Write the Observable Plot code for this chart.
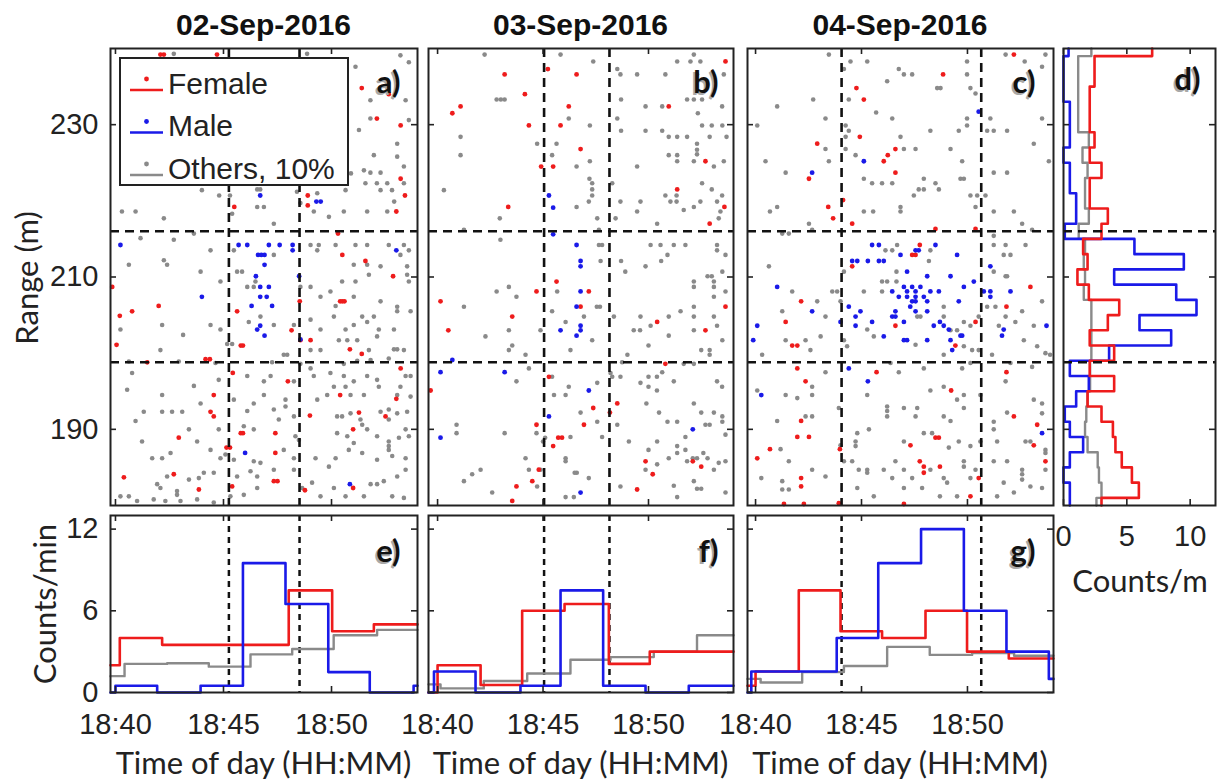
<!DOCTYPE html>
<html><head><meta charset="utf-8">
<script src="https://cdn.jsdelivr.net/npm/d3@7"></script>
<script src="https://cdn.jsdelivr.net/npm/@observablehq/plot@0.6"></script>
<style>
body{margin:0;background:#fff;}
#chart{position:relative;width:1225px;height:780px;overflow:hidden;background:#fff;}
#chart svg{position:absolute;left:0;top:0;}
.lbl{position:absolute;white-space:nowrap;color:#222;line-height:1;transform:translate(-50%,-50%);}
.ttl{font-family:"Liberation Sans",Arial,sans-serif;font-weight:bold;font-size:30px;color:#111;}
.ax{font-family:Lato,"Open Sans",sans-serif;font-size:31px;}
</style></head><body><div id="chart"></div>
<script>
// ---------- tick values ----------
const timeTicks = [0, 5, 10];            // minutes after 18:40
const rangeTicks = [190, 210, 230];
const countTicks = [0, 6, 12];
const countPerMTicks = [0, 5, 10];
const rangeLines = [198.8, 216.0];       // dashed range limits
const vlinesA = [5.25, 8.52];
const vlinesB = [5.05, 8.15];
const vlinesC = [4.06, 10.65];
const dayTitles = ["02-Sep-2016", "03-Sep-2016", "04-Sep-2016"];

// ---------- scatter data: [minutes after 18:40, range m] ----------
const femaleA = [[2.08,239.2],[2.24,239.2],[4.7,239.2],[11.4,234.8],[12.65,234.0],[12.1,230.8],[13.2,229.9],[13.2,222.9],[13.4,220.7],[13.0,218.6],[8.9,220.7],[8.9,219.4],[5.5,219.2],[10.3,215.7],[10.5,212.9],[11.57,212.1],[-0.15,208.7],[0.2,204.9],[0.77,205.5],[0.05,201.1],[2.0,206.2],[4.17,199.2],[4.37,199.2],[1.47,198.8],[5.63,205.5],[5.43,197.4],[5.8,201.0],[5.9,201.0],[4.55,194.5],[4.4,192.3],[4.55,191.7],[2.93,188.9],[5.8,189.5],[5.9,189.5],[7.4,189.5],[5.14,187.6],[5.3,187.6],[7.4,186.9],[0.39,183.7],[2.7,184.1],[3.86,182.1],[5.4,182.5],[7.33,183.2],[7.5,183.2],[8.77,182.0],[7.98,196.3],[8.15,203.0],[8.56,201.7],[9.03,201.7],[9.0,191.8],[8.53,206.8],[10.4,206.8],[10.5,206.8],[10.6,206.8],[12.85,210.1],[10.85,200.5],[11.4,199.9],[13.2,198.0],[13.0,194.0],[10.4,194.5],[11.27,192.2],[11.0,190.0],[12.5,191.7],[11.0,182.3]];
const maleA = [[6.7,220.7],[9.3,219.9],[9.5,219.9],[0.23,214.2],[5.7,214.2],[6.1,214.2],[6.6,212.9],[6.75,212.9],[6.9,212.9],[7.1,214.2],[7.6,214.2],[8.2,214.2],[8.2,213.5],[6.9,211.6],[6.5,210.1],[6.7,208.7],[7.1,208.7],[6.7,207.4],[7.0,207.4],[6.3,206.2],[7.25,206.2],[4.0,207.4],[6.56,203.1],[6.7,203.6],[6.9,202.3],[8.5,210.1],[8.56,201.8],[6.0,186.9],[13.0,213.5],[10.85,182.8]];
const othersA = [[2.7,239.3],[8.87,239.3],[13.19,239.1],[13.58,238.2],[11.11,237.6],[11.8,233.2],[13.43,233.2],[11.8,230.8],[13.58,230.6],[11.27,229.3],[13.04,227.5],[11.96,226.0],[13.04,225.8],[11.5,224.0],[11.8,223.7],[12.27,223.7],[13.35,224.5],[11.57,222.3],[12.1,222.3],[12.58,222.3],[13.35,222.3],[12.27,221.4],[12.8,221.4],[12.9,219.9],[10.9,223.6],[8.26,223.6],[4.0,221.4],[4.8,220.7],[5.3,220.7],[6.56,221.5],[6.7,221.5],[8.4,221.2],[9.34,221.0],[10.65,221.4],[11.65,218.6],[12.58,218.6],[10.57,218.6],[9.88,217.9],[9.18,218.6],[8.56,219.7],[7.33,217.0],[6.56,219.2],[6.87,219.2],[5.4,218.3],[2.24,217.7],[0.3,218.6],[0.93,218.6],[1.16,215.1],[2.7,214.9],[3.63,215.7],[5.48,213.5],
[4.4,213.5],[7.33,212.9],[9.03,214.2],[9.41,214.2],[10.19,214.2],[11.11,214.2],[11.65,214.2],[12.65,214.2],[13.35,214.2],[13.58,213.5],[9.34,213.5],[13.19,212.9],[11.03,211.6],[11.65,211.6],[12.27,211.4],[13.5,211.4],[2.24,212.2],[2.39,211.6],[0.62,211.6],[3.94,210.7],[4.86,209.4],[5.63,210.7],[5.86,210.7],[6.1,208.7],[6.4,208.7],[6.48,209.4],[8.56,208.7],[9.03,208.7],[9.95,208.1],[10.49,209.4],[11.11,209.4],[11.73,210.3],[13.5,210.3],[13.58,209.4],[10.19,206.2],[10.11,204.8],[9.49,207.4],[11.03,207.4],[12.27,206.8],[13.04,206.1],[13.04,205.5],[13.66,205.5],[11.42,204.8],[11.65,204.1],[11.96,204.8],[12.19,203.1],[12.11,202.2],[12.89,203.1],[11.03,203.7],[10.65,203.1],[9.49,203.1],[9.03,204.4],[8.26,203.7],[7.33,203.7],[6.17,204.1],[6.71,204.8],[4.86,203.1],[4.4,203.7],[3.13,202.4],[2.16,203.7],[0.23,203.1],[2.08,200.4],[5.17,201.2],[5.4,201.2],[7.79,199.8],[7.95,199.8],[9.03,200.4],[9.49,200.4],[10.34,201.7],[10.73,201.7],[11.19,201.7],[11.73,200.4],[12.89,200.5],[13.04,200.5],[13.35,200.4],[13.43,197.0],[13.66,197.0],[12.65,199.3],[11.81,199.1],[11.19,199.0],[10.57,198.6],[9.03,198.0],[8.56,198.6],[7.25,198.8],[4.63,198.7],[2.93,198.9],[0.62,198.9],[0.77,197.4],[0.54,195.2],[2.16,194.5],[3.63,195.7],[4.78,196.5],[6.1,197.0],[6.87,196.3],[7.18,197.0],[8.26,196.3],[9.18,197.0],[9.95,197.4],[10.57,197.0],[11.03,196.3],[11.65,197.0],[12.11,196.5],[12.19,195.6],[10.11,195.6],[10.65,195.6],[9.8,194.5],[9.34,193.9],[10.88,194.5],[11.5,194.5],[13.19,195.6],[13.66,194.3],[13.04,194.5],[7.87,193.9],[7.87,193.0],[7.33,192.6],[6.87,194.5],[6.4,193.4],[5.48,193.9],[6.1,192.4],[3.94,193.4],[1.31,192.3],[2.16,192.3],[2.62,192.3],[3.09,192.3],[0.93,191.1],[3.4,190.0],[4.78,190.0],[5.94,190.4],[6.4,190.0],[7.56,191.3],[8.26,191.7],[8.33,189.1],[8.49,188.6],[10.26,191.7],[10.49,191.7],[10.88,192.1],[11.34,191.3],[11.42,190.6],[12.27,192.3],[12.65,192.6],[12.65,191.3],[13.04,192.1],[13.5,192.3],[13.43,190.0],[11.65,190.0],[12.11,189.1],[13.12,188.9],[13.58,189.1],[10.26,189.5],[10.73,189.1],[12.65,188.4],[12.65,187.8],[12.65,187.3],[1.23,188.4],[1.7,186.2],[2.16,186.2],[2.55,186.9],[3.78,188.4],[4.4,187.3],[4.86,186.2],[5.09,186.7],[5.48,186.0],[6.4,185.8],[6.71,185.6],[6.25,184.5],[6.56,183.8],[5.63,183.8],[4.55,184.3],[4.09,184.3],[3.4,183.4],[2.39,183.8],[1.93,182.8],[2.08,182.3],[2.85,181.9],[2.85,181.4],[3.86,183.6],[5.32,181.2],[5.94,181.4],[6.56,182.3],[7.33,184.7],[7.79,187.3],[8.26,186.2],[8.26,184.7],[9.26,186.2],[9.88,185.1],[10.19,186.2],[10.8,187.3],[11.03,188.2],[11.42,186.9],[12.11,186.0],[12.81,186.5],[13.43,186.2],[13.43,184.7],[13.04,183.8],[12.42,183.2],[12.11,182.8],[12.81,181.2],[13.35,181.0],[11.5,181.2],[10.65,181.2],[10.11,182.3],[9.49,181.2],[9.1,183.0],[8.64,182.3],[0.23,181.2],[0.62,181.2],[1.0,180.6],[1.77,180.8],[2.31,180.6],[3.01,180.6],[3.78,180.8],[4.55,180.4],[11.81,182.8]];

const femaleB = [[3.18,236.6],[6.59,236.6],[4.14,234.0],[0.7,231.5],[1.09,232.4],[6.22,232.4],[4.33,229.9],[5.83,229.9],[5.23,237.3],[6.78,226.8],[4.91,224.5],[5.48,224.5],[3.35,219.2],[13.65,238.3],[10.96,232.4],[12.7,225.2],[11.36,221.5],[13.6,219.2],[12.9,217.0],[0.14,206.8],[0.51,203.0],[3.54,204.8],[4.69,208.1],[5.64,209.4],[7.17,208.1],[6.78,206.1],[-0.33,195.1],[10.41,204.1],[12.7,203.0],[13.65,206.1],[10.8,198.6],[5.28,196.9],[7.38,192.8],[6.94,190.6],[4.69,190.6],[8.52,193.4],[8.17,192.2],[5.72,188.9],[5.9,188.9],[5.48,187.8],[4.8,184.7],[4.49,183.2],[3.74,182.5],[3.54,180.6],[9.86,185.8],[10.2,184.1],[9.46,182.1],[12.1,185.8],[12.5,185.1]];
const maleB = [[5.28,220.7],[5.48,219.1],[5.48,215.6],[6.59,214.2],[6.78,212.1],[6.78,211.4],[6.78,208.1],[6.59,206.1],[6.78,203.6],[6.78,203.0],[6.59,202.3],[5.83,203.0],[0.7,199.1],[0.14,197.5],[3.18,197.5],[7.17,195.1],[5.28,191.7],[0.14,188.9],[12.1,190.0],[6.78,181.7]];
const othersB = [[2.23,239.2],[5.83,239.2],[7.38,238.3],[8.52,237.3],[8.67,236.6],[9.46,236.6],[10.8,236.6],[11.36,238.3],[11.99,238.3],[12.15,239.2],[12.46,238.3],[12.3,236.6],[13.57,236.6],[2.8,233.3],[3.0,233.3],[3.18,233.3],[8.7,233.3],[9.86,232.4],[10.65,232.4],[11.83,233.3],[12.15,233.3],[12.54,233.3],[12.34,231.5],[13.49,232.4],[6.22,230.8],[7.22,229.9],[8.52,230.8],[8.7,229.2],[9.86,229.2],[10.65,229.2],[12.54,229.9],[13.0,229.9],[13.5,229.9],[1.09,228.4],[4.72,227.5],[5.64,227.5],[10.96,228.4],[11.36,228.4],[11.83,228.4],[12.3,227.5],[12.3,226.7],[12.3,226.1],[12.9,228.4],[13.7,228.4],[1.09,226.0],[5.43,226.0],[7.22,225.2],[10.96,226.0],[11.36,226.0],[11.36,225.2],[12.15,225.2],[13.1,224.5],[13.57,225.2],[9.46,224.5],[6.59,224.5],[0.3,221.4],[7.2,222.9],[7.33,222.3],[7.33,221.5],[7.33,220.7],[7.17,219.9],[6.59,219.2],[8.28,222.3],[8.67,219.9],[9.62,219.9],[12.54,222.3],[13.0,221.5],[13.49,220.7],[13.25,219.9],[12.15,219.2],[12.46,219.9],[11.33,220.7],[11.33,219.9],[11.04,219.9],[10.8,220.7],[11.67,218.8],[13.33,217.7],[13.41,218.6],[2.95,217.7],[1.25,216.2],[2.98,214.9],[7.65,216.2],[8.44,217.7],[9.46,218.6],[10.41,217.0],[7.57,217.7],
[7.65,214.2],[7.8,214.2],[10.1,214.2],[10.57,214.2],[11.2,214.2],[11.75,214.2],[13.25,214.2],[13.25,213.5],[13.65,212.9],[10.9,212.9],[10.6,212.1],[9.86,211.4],[8.7,212.1],[8.9,210.7],[7.73,212.1],[12.8,210.1],[13.0,210.1],[12.15,209.4],[12.15,208.7],[13.1,209.4],[13.1,208.7],[13.5,210.7],[13.65,208.1],[13.1,207.4],[12.15,206.1],[11.52,205.5],[10.96,204.8],[9.62,204.8],[10.1,203.6],[9.3,203.0],[9.6,203.0],[10.96,202.3],[10.0,201.0],[12.15,203.0],[12.15,204.8],[13.1,204.8],[13.25,203.6],[13.5,201.7],[12.5,200.4],[12.9,200.4],[12.9,199.8],[12.15,198.6],[11.67,198.6],[9.0,199.8],[8.75,198.8],[8.36,204.8],[7.33,201.7],[6.3,200.4],[5.67,208.1],[5.43,205.5],[6.07,204.1],[6.94,204.8],[4.88,203.0],[3.38,203.0],[2.27,202.2],[3.38,200.4],[3.54,201.0],[4.17,199.8],[4.33,198.0],[3.74,207.4],[2.8,208.1],[3.38,208.7],[1.25,206.1],[7.7,206.1],[7.55,206.1],
[5.43,196.9],[6.22,195.6],[5.52,194.5],[6.07,194.5],[7.57,196.1],[8.2,197.4],[8.28,196.9],[8.67,196.9],[10.0,196.9],[10.4,196.9],[9.62,196.1],[10.0,195.6],[10.4,195.1],[11.2,196.3],[10.65,197.5],[6.78,192.2],[7.57,191.0],[8.52,190.6],[7.8,189.0],[6.3,189.0],[5.1,188.9],[5.0,188.4],[6.07,186.2],[6.07,185.8],[6.6,184.3],[6.5,184.3],[7.17,183.6],[6.46,181.1],[6.07,181.1],[4.88,184.7],[4.17,186.2],[4.33,184.7],[4.72,182.5],[2.59,181.7],[1.25,183.2],[1.64,184.1],[2.04,184.7],[0.9,190.6],[0.9,189.5],[3.18,189.5],[4.69,189.5],[3.74,196.3],[8.67,182.5],[9.07,188.4],[9.86,184.7],[10.41,185.4],[10.0,187.3],[10.41,188.4],[10.96,186.2],[11.36,187.8],[11.36,186.9],[11.75,187.3],[11.75,189.0],[10.9,191.0],[11.36,191.0],[10.5,192.2],[9.9,193.4],[12.15,193.4],[12.5,192.2],[12.7,190.6],[12.9,190.6],[13.1,192.2],[13.5,191.7],[13.5,191.0],[13.25,196.3],[13.49,195.6],[13.65,189.3],[12.8,186.2],[12.6,186.9],[13.1,184.7],[13.33,185.6],[13.65,185.8],[12.5,182.2],[12.3,182.2],[12.15,183.2],[11.36,181.1],[11.2,182.6],[13.65,181.7],[11.83,185.8],[12.1,186.2],[12.3,186.2]];

const femaleC = [[12.19,239.2],[8.85,236.6],[4.76,234.8],[5.11,233.3],[4.92,228.4],[2.91,227.5],[6.6,226.8],[6.24,226.0],[6.05,225.2],[6.6,223.7],[2.52,222.9],[4.13,220.1],[3.43,219.2],[3.66,217.7],[4.56,217.0],[8.49,216.3],[10.38,216.3],[7.75,214.2],[7.39,212.9],[7.55,212.9],[4.56,211.4],[2.15,206.8],[1.42,204.1],[1.73,201.0],[1.97,201.0],[6.6,203.6],[10.38,204.1],[9.43,201.0],[11.84,206.1],[12.97,208.7],[1.97,198.0],[2.36,196.3],[5.71,197.5],[11.84,197.5],[9.23,195.1],[2.15,191.1],[1.97,189.0],[2.52,189.0],[0.68,187.4],[0.08,186.2],[3.98,187.4],[7.31,187.9],[8.49,188.9],[8.65,188.9],[7.75,185.8],[7.94,185.1],[7.94,184.3],[8.7,185.1],[12.19,191.7],[13.29,190.6],[13.13,187.9],[13.68,185.8],[10.53,183.6],[10.14,181.2],[2.15,183.6],[2.15,182.5],[1.34,180.2],[2.28,180.2],[7.0,180.2],[3.93,180.3]];
const maleC = [[10.53,231.7],[5.11,225.2],[2.67,223.7],[5.5,214.2],[5.82,214.2],[7.55,213.5],[7.7,213.5],[8.49,214.2],[6.84,212.9],[9.51,212.9],[4.56,212.1],[4.8,212.1],[5.3,212.1],[5.82,212.1],[6.05,212.1],[7.15,210.7],[8.1,210.1],[9.2,210.1],[10.3,209.4],[11.08,211.4],[1.02,208.7],[6.45,208.1],[7.0,208.7],[7.39,208.7],[7.78,208.7],[6.76,207.4],[7.15,208.1],[7.15,207.4],[7.55,208.1],[7.55,207.4],[8.25,208.1],[8.65,208.1],[7.94,207.4],[8.1,206.8],[7.39,206.8],[7.55,206.8],[7.3,206.1],[6.6,205.5],[8.1,205.5],[7.55,205.5],[9.59,206.8],[9.83,208.7],[10.77,208.1],[11.08,208.1],[11.08,207.4],[12.03,208.1],[4.4,206.1],[4.95,205.5],[4.72,204.8],[5.5,204.1],[6.45,204.8],[6.6,204.8],[7.0,204.1],[4.01,204.1],[4.72,203.6],[6.05,202.2],[7.0,201.7],[7.15,201.7],[8.1,201.7],[8.41,203.6],[8.7,204.1],[8.88,203.6],[9.12,203.1],[9.67,202.3],[9.75,202.3],[9.2,201.7],[9.28,200.4],[11.71,203.1],[11.63,202.3],[13.73,203.6],[0.08,203.6],[-0.11,201.7],[2.67,205.5],[4.4,198.0],[5.3,196.3],[0.27,194.5],[13.52,189.5]];
const othersC = [[3.46,239.2],[11.8,239.2],[12.7,238.3],[13.68,239.2],[13.52,237.6],[4.48,238.3],[5.27,238.3],[4.17,237.3],[6.76,237.3],[7.0,236.6],[7.39,236.6],[6.21,235.7],[8.57,234.8],[8.73,234.8],[9.98,238.3],[9.98,236.6],[10.14,234.8],[10.38,234.1],[1.02,232.4],[2.72,233.3],[4.4,233.3],[5.69,231.6],[6.45,230.8],[3.3,230.8],[0.08,229.9],[4.25,229.9],[4.4,229.2],[4.25,228.4],[4.25,226.8],[3.3,226.8],[4.72,226.0],[3.46,225.2],[0.47,225.2],[1.42,223.7],[8.25,229.2],[9.59,229.2],[9.98,230.8],[9.98,229.9],[10.93,229.2],[11.24,229.2],[11.87,229.2],[11.08,230.8],[13.52,230.8],[13.13,227.5],[13.84,225.2],[6.84,228.4],[7.0,226.8],[7.55,226.8],[9.2,226.8],[9.75,225.2],[11.24,223.7],[11.87,223.7],[9.67,222.9],[9.83,222.9],[7.94,222.9],[5.11,222.9],[5.5,222.3],[5.97,222.3],[6.45,222.3],[7.7,221.5],[7.94,221.5],[7.47,220.7],[8.49,222.3],[8.65,221.5],[10.14,220.7],[10.46,220.7],[10.85,220.7],[10.38,219.2],[11.24,218.6],[12.19,218.6],[12.58,217.0],[13.05,216.2],[1.02,219.2],[0.68,218.6],[2.52,217.0],[5.11,218.6],[5.55,218.6],[6.84,219.2],[6.84,218.6],[1.26,215.7],[1.57,215.7],[2.67,216.2],[11.24,215.4],[11.8,214.2],[12.74,214.2],
[0.63,211.4],[1.73,208.1],[2.91,206.8],[1.26,205.5],[3.3,204.8],[3.07,202.2],[1.42,201.7],[2.36,201.7],[2.59,200.4],[0.31,199.8],[3.62,208.1],[3.85,208.1],[4.01,206.8],[4.17,210.7],[5.11,208.1],[5.97,208.1],[6.13,213.5],[6.45,213.5],[6.68,214.2],[8.25,213.5],[8.18,212.1],[6.65,210.7],[6.65,209.4],[6.21,209.4],[5.97,209.4],[8.88,206.1],[7.63,204.8],[7.78,204.8],[8.88,204.8],[9.51,203.0],[9.2,203.0],[9.83,204.1],[10.14,203.6],[10.53,204.8],[10.53,200.4],[9.83,200.9],[10.22,200.4],[8.88,199.8],[7.55,201.1],[5.58,202.2],[5.27,203.1],[4.32,200.9],[4.17,201.7],[11.24,214.2],[11.71,212.9],[12.03,212.9],[11.24,210.7],[11.8,210.1],[11.87,210.1],[13.52,206.8],[10.93,206.1],[11.32,206.1],[12.58,205.5],[12.26,204.1],[13.13,203.6],[11.8,204.8],[11.48,203.6],[12.66,201.7],[13.29,200.9],[13.68,200.0],[13.9,199.8],[11.16,199.8],[12.03,198.7],[11.8,196.3],[13.05,198.2],[9.75,198.0],[10.14,198.7],[7.94,198.0],[6.76,197.5],[6.37,198.7],[3.3,197.5],[2.67,195.6],[1.42,194.5],[1.97,194.1],[2.67,194.5],[0.08,195.1],[1.02,191.1],[2.36,191.7],[2.67,191.7],[3.93,192.8],[5.27,194.5],[6.21,193.0],[6.21,192.4],[6.21,191.7],[7.0,192.8],[7.63,192.8],[7.55,191.7],[8.25,195.1],[8.88,195.6],[9.83,194.5],[9.51,193.9],[8.88,191.7],[9.2,191.1],[9.83,192.8],[10.61,194.5],[11.24,191.0],[11.24,190.0],[11.87,192.2],[13.13,193.9],[13.52,193.4],[13.52,192.1],[4.8,189.5],[5.35,190.0],[4.72,188.4],[4.72,187.8],[4.01,187.9],[7.0,188.4],[7.94,189.5],[8.33,189.5],[9.12,187.6],[9.59,188.4],[10.14,187.8],[10.61,188.4],[11.4,188.4],[12.74,188.4],[12.97,188.4],[13.68,187.3],[13.68,186.9],[1.18,187.4],[1.57,185.8],[0.27,183.6],[1.26,183.2],[1.57,182.1],[1.26,182.1],[2.67,184.7],[3.3,183.8],[4.17,185.8],[4.8,182.3],[4.56,185.8],[5.27,184.7],[5.27,184.3],[4.87,184.7],[6.05,184.7],[6.6,185.8],[6.45,183.6],[7.0,184.7],[7.39,183.6],[7.0,182.3],[7.86,182.3],[5.58,181.2],[8.7,181.2],[8.88,183.6],[9.04,183.0],[8.25,184.7],[9.83,185.8],[9.83,185.1],[10.14,183.6],[10.38,184.7],[11.24,185.8],[11.87,185.8],[12.58,184.7],[12.58,184.1],[12.58,183.4],[11.71,183.0],[12.19,181.7],[12.97,182.5],[13.52,182.3],[13.68,184.7],[11.4,181.2],[9.51,181.2]];

// ---------- range histogram (panel d), 2 m bins ----------
const rangeBinCenters = [240,238,236,234,232,230,228,226,224,222,220,218,216,214,212,210,208,206,204,202,200,198,196,194,192,190,188,186,184,182,180];
const femalePerM = [7.0,2.45,2.45,2.07,2.07,2.07,2.45,2.07,3.0,2.07,2.07,3.5,3.0,1.55,1.9,1.1,2.0,4.4,3.5,2.07,4.0,2.07,4.0,1.9,3.0,3.9,4.1,4.6,5.4,5.95,3.0];
const malePerM = [0.4,0,0,0,0.5,0.5,0.5,0,0.5,0.5,1.0,1.0,0.1,5.6,9.5,4.0,8.9,10.5,6.0,8.5,3.6,0.5,2.0,1.0,0.1,0.5,1.55,0.5,0,0.5,0.5];
const othersPerM = [2.2,1.16,1.16,1.16,1.16,1.16,2.0,1.5,1.9,1.7,1.7,2.0,1.2,1.7,1.6,1.7,1.6,2.2,2.2,2.2,2.2,2.1,2.1,1.9,1.8,1.7,1.9,2.7,2.8,3.0,2.6];

// ---------- time histograms (panels e, f, g): bin edges (min after 18:40) and counts/min ----------
const femaleEdgesE = [-0.23,0.2,2.16,4.1,6.06,8.02,10.03,11.96,13.98];
const femaleRateE  = [2.0,4.0,3.5,3.5,3.5,7.5,4.5,5.0];
const maleEdgesE   = [-0.23,0.0,1.93,3.94,5.9,7.87,9.85,11.77,13.8,13.98];
const maleRateE    = [0,0.5,0,0.5,9.5,6.5,1.5,0,0.5];
const othersEdgesE = [-0.23,0.42,2.39,4.32,6.25,8.18,10.1,12.11,13.98];
const othersRateE  = [1.2,2.1,2.15,1.9,2.8,3.2,4.2,4.6];

const femaleEdgesF = [-0.43,0.0,2.04,4.01,6.02,8.12,10.06,12.0,14.03];
const femaleRateF  = [0,2.0,0.55,6.0,6.5,2.1,3.0,3.0];
const maleEdgesF   = [-0.43,-0.17,1.8,3.93,5.83,7.85,9.86,11.91,14.03];
const maleRateF    = [0,1.54,0,0.5,7.5,0.5,0,0.5];
const othersEdgesF = [-0.43,0.14,2.19,4.25,6.3,8.2,10.25,12.3,14.03];
const othersRateF  = [0.6,0.3,0.85,1.4,2.4,2.6,3.0,4.2];

const femaleEdgesG = [-0.38,0.0,2.04,4.01,5.97,8.02,9.98,11.95,14.06];
const femaleRateG  = [0.5,1.54,7.5,4.5,4.0,6.0,3.0,2.5];
const maleEdgesG   = [-0.38,-0.2,1.81,3.83,5.79,7.81,9.83,11.84,13.84,14.06];
const maleRateG    = [0,1.54,1.54,4.0,9.5,12.0,6.0,3.0,1.0];
const othersEdgesG = [-0.38,0.24,2.2,4.17,6.21,8.22,10.22,12.2,14.06];
const othersRateG  = [1.0,0.73,1.5,1.95,3.35,2.76,2.9,2.7];

// ---------- styling ----------
const RED = "#ee1c1c", BLUE = "#1a1ae8", GRAY = "#8a8a8a", INK = "#222";
const STYLE = {background:"none", fontFamily:'"Liberation Sans", Arial, sans-serif', fontSize:"29px", color:"#222", overflow:"visible"};
const W = 1225, H = 780;
const TOP = {top:48, bottom:505}, BOT = {top:515, bottom:692};
const panels = [
  {left:110, right:417, xdom:[-0.23,13.98], letters:["a)","e)"], ldx:-17, f:femaleA, m:maleA, o:othersA, v:vlinesA,
   fe:[femaleEdgesE,femaleRateE], me:[maleEdgesE,maleRateE], oe:[othersEdgesE,othersRateE]},
  {left:428, right:733, xdom:[-0.43,14.03], letters:["b)","f)"], ldx:-15, f:femaleB, m:maleB, o:othersB, v:vlinesB,
   fe:[femaleEdgesF,femaleRateF], me:[maleEdgesF,maleRateF], oe:[othersEdgesF,othersRateF]},
  {left:747, right:1053, xdom:[-0.38,14.06], letters:["c)","g)"], ldx:-18, f:femaleC, m:maleC, o:othersC, v:vlinesC,
   fe:[femaleEdgesG,femaleRateG], me:[maleEdgesG,maleRateG], oe:[othersEdgesG,othersRateG]}
];
const fig = document.getElementById("chart");

function letter(txt, dx, dy){
  const o = {frameAnchor:"top-right", textAnchor:"end", lineAnchor:"middle", fontSize:31, fontFamily:"Lato, sans-serif", fontWeight:"bold"};
  return [Plot.text([txt], {...o, dx:dx-2, dy:dy+1.5, fill:"#a8a8a8"}), Plot.text([txt], {...o, dx, dy, fill:"#111"})];
}
function inwardTicks(xt, yt, fw, fh){
  const s = {stroke:INK, strokeWidth:1.6};
  return [
    Plot.ruleX(xt, {x:d=>d, insetBottom:fh-6, ...s}), Plot.ruleX(xt, {x:d=>d, insetTop:fh-6, ...s}),
    Plot.ruleY(yt, {y:d=>d, insetRight:fw-6, ...s}), Plot.ruleY(yt, {y:d=>d, insetLeft:fw-6, ...s})
  ];
}
const stepPts = (edges, vals) => vals.flatMap((v,i)=>[[edges[i],v],[edges[i+1],v]]);
const hStepPts = (vals) => vals.flatMap((v,j)=>[[v, Math.min(240, rangeBinCenters[j]+1)], [v, Math.max(180, rangeBinCenters[j]-1)]]);
const fmtTime = m => "18:" + String(40 + m).padStart(2,"0");

panels.forEach((p, i) => {
  const fw = p.right - p.left;
  // scatter panel
  fig.appendChild(Plot.plot({
    width:W, height:H, marginLeft:p.left, marginRight:W-p.right, marginTop:TOP.top, marginBottom:H-TOP.bottom,
    style:STYLE,
    x:{domain:p.xdom, axis:null},
    y: i===0 ? {domain:[180,240], ticks:rangeTicks, tickSize:0, tickPadding:12, label:null} : {domain:[180,240], axis:null},
    marks:[
      Plot.dot(p.o, {x:d=>d[0], y:d=>d[1], r:2.3, fill:GRAY}),
      Plot.dot(p.f, {x:d=>d[0], y:d=>d[1], r:2.4, fill:RED}),
      Plot.dot(p.m, {x:d=>d[0], y:d=>d[1], r:2.4, fill:BLUE}),
      Plot.ruleY(rangeLines, {y:d=>d, stroke:"#111", strokeWidth:2.6, strokeDasharray:"9,6"}),
      Plot.ruleX(p.v, {x:d=>d, stroke:"#111", strokeWidth:2.6, strokeDasharray:"9,6"}),
      ...inwardTicks(timeTicks, rangeTicks, fw, TOP.bottom-TOP.top),
      Plot.frame({stroke:INK, strokeWidth:2}),
      ...letter(p.letters[0], p.ldx, 35)
    ]
  }));
  // time histogram panel
  fig.appendChild(Plot.plot({
    width:W, height:H, marginLeft:p.left, marginRight:W-p.right, marginTop:BOT.top, marginBottom:H-BOT.bottom,
    style:STYLE,
    x:{domain:p.xdom, ticks:timeTicks, tickFormat:fmtTime, tickSize:0, tickPadding:21, label:null},
    y: i===0 ? {domain:[0,13], ticks:countTicks, tickSize:0, tickPadding:12, label:null} : {domain:[0,13], axis:null},
    marks:[
      Plot.ruleX(p.v, {x:d=>d, stroke:"#111", strokeWidth:2.5, strokeDasharray:"6,5"}),
      Plot.line(stepPts(...p.oe), {x:d=>d[0], y:d=>d[1], stroke:GRAY, strokeWidth:2.4}),
      Plot.line(stepPts(...p.fe), {x:d=>d[0], y:d=>d[1], stroke:RED, strokeWidth:2.6}),
      Plot.line(stepPts(...p.me), {x:d=>d[0], y:d=>d[1], stroke:BLUE, strokeWidth:2.6}),
      ...inwardTicks(timeTicks, countTicks, fw, BOT.bottom-BOT.top),
      Plot.frame({stroke:INK, strokeWidth:2}),
      ...letter(p.letters[1], p.ldx, 37)
    ]
  }));
});

// panel d: counts per metre of range
{
  const left = 1063, right = 1215;
  fig.appendChild(Plot.plot({
    width:W, height:H, marginLeft:left, marginRight:W-right, marginTop:TOP.top, marginBottom:H-TOP.bottom,
    style:STYLE,
    x:{domain:[0,12], ticks:countPerMTicks, tickSize:0, tickPadding:20, label:null},
    y:{domain:[180,240], axis:null},
    marks:[
      Plot.line(hStepPts(othersPerM), {x:d=>d[0], y:d=>d[1], stroke:GRAY, strokeWidth:2.4}),
      Plot.line(hStepPts(malePerM), {x:d=>d[0], y:d=>d[1], stroke:BLUE, strokeWidth:2.6}),
      Plot.line(hStepPts(femalePerM), {x:d=>d[0], y:d=>d[1], stroke:RED, strokeWidth:2.6}),
      Plot.ruleY(rangeLines, {y:d=>d, stroke:"#111", strokeWidth:2.6, strokeDasharray:"9,6"}),
      ...inwardTicks(countPerMTicks, rangeTicks, right-left, TOP.bottom-TOP.top),
      Plot.frame({stroke:INK, strokeWidth:2}),
      ...letter("d)", -15, 32)
    ]
  }));
}

// ---------- legend (panel a) ----------
const legendItems = [["Female", RED], ["Male", BLUE], ["Others, 10%", GRAY]];
{
  const ns = "http://www.w3.org/2000/svg";
  const svg = document.createElementNS(ns, "svg");
  svg.setAttribute("width", 230); svg.setAttribute("height", 129);
  svg.style.left = "119px"; svg.style.top = "57px";
  let html = `<rect x="1" y="1" width="228" height="127" fill="#fff" stroke="${INK}" stroke-width="2"/>`;
  legendItems.forEach(([name, col], k) => {
    const cy = 26 + k * 42.5;
    html += `<line x1="11" x2="44" y1="${cy+7}" y2="${cy+7}" stroke="${col}" stroke-width="2.6"/>`;
    html += `<circle cx="27.5" cy="${cy-4}" r="2.4" fill="${col}"/>`;
    html += `<text x="49" y="${cy}" dy="0.36em" font-family="Liberation Sans, Arial, sans-serif" font-size="30" fill="#222">${name}</text>`;
  });
  svg.innerHTML = html;
  fig.appendChild(svg);
}

// ---------- titles and axis labels ----------
function label(text, cx, cy, cls, rot){
  const d = document.createElement("div");
  d.className = "lbl " + cls;
  d.textContent = text;
  d.style.left = cx + "px"; d.style.top = cy + "px";
  if (rot) d.style.transform = "translate(-50%,-50%) rotate(-90deg)";
  fig.appendChild(d);
}
panels.forEach((p, i) => {
  const cx = (p.left + p.right) / 2;
  label(dayTitles[i], cx, 25, "ttl");
  label("Time of day (HH:MM)", cx, 762, "ax");
});
label("Range (m)", 26, 278, "ax", true);
label("Counts/min", 44, 604, "ax", true);
label("Counts/m", 1140, 580, "ax");
</script></body></html>
